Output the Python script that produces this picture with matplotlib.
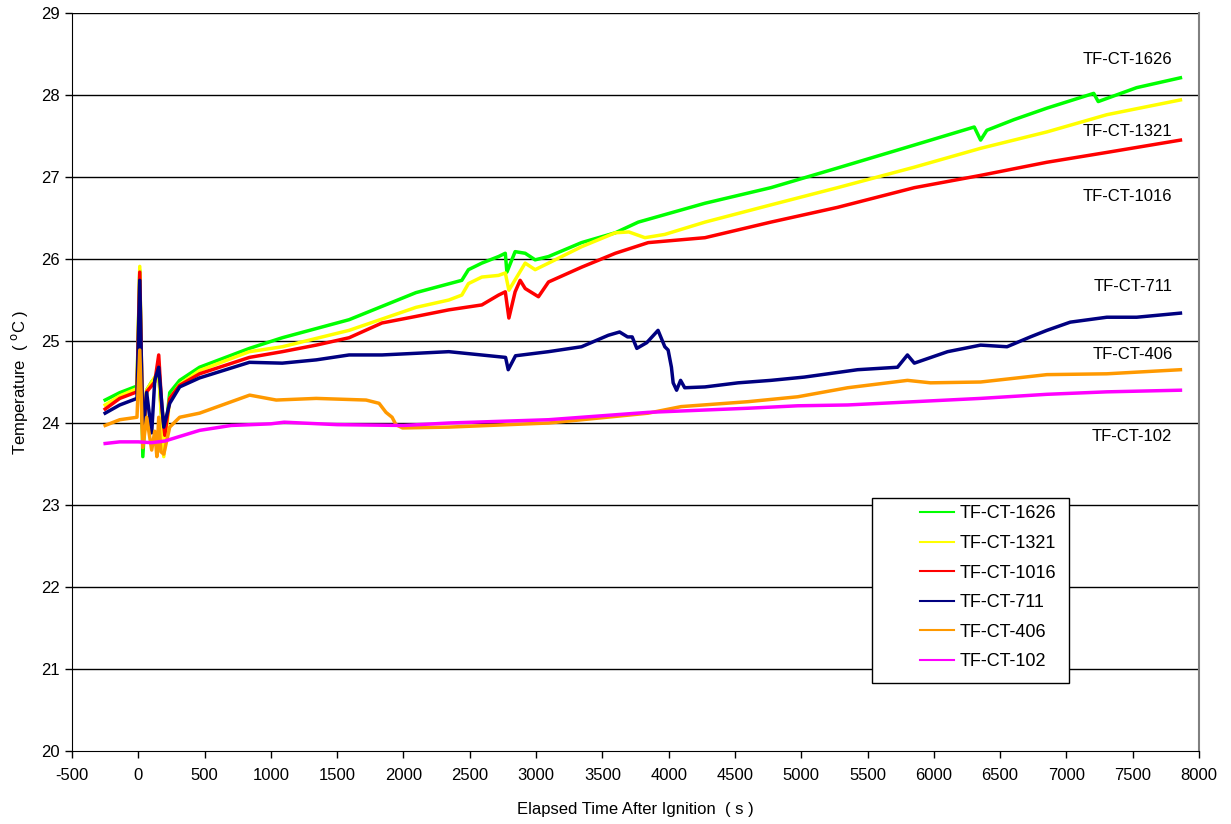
import matplotlib.pyplot as plt
from matplotlib.lines import Line2D
from matplotlib.patches import Rectangle

plt.rcParams['font.family'] = ['Liberation Sans', 'DejaVu Sans']
plt.rcParams['axes.unicode_minus'] = False

# values (time in s, temperature in degC)
t_1626 = [-250, -140, -10, 11, 34, 63, 100, 154, 192, 237, 312, 462, 838, 1086, 1590, 2094, 2440, 2490,
          2591, 2717, 2768, 2780, 2842, 2918, 2993, 3094, 3343, 3598, 3771, 4274, 4771, 5274, 5853, 6305,
          6353, 6400, 6605, 6853, 7206, 7240, 7530, 7860]
v_1626 = [24.28, 24.37, 24.45, 25.86, 23.59, 24.4, 24.5, 24.6, 23.71, 24.37, 24.52, 24.68, 24.91, 25.04,
          25.26, 25.59, 25.74, 25.87, 25.95, 26.03, 26.07, 25.84, 26.09, 26.07, 25.99, 26.03, 26.2, 26.32,
          26.45, 26.68, 26.87, 27.11, 27.39, 27.61, 27.45, 27.57, 27.7, 27.84, 28.02, 27.92, 28.09, 28.21]

t_1321 = [-250, -140, -10, 11, 34, 63, 124, 154, 192, 237, 312, 462, 838, 1086, 1590, 2094, 2342, 2440,
          2490, 2591, 2717, 2768, 2795, 2918, 2993, 3094, 3343, 3598, 3700, 3821, 3971, 4274, 4771, 5274,
          5853, 6353, 6853, 7305, 7860]
v_1321 = [24.22, 24.33, 24.42, 25.91, 23.75, 24.4, 24.56, 24.6, 23.59, 24.3, 24.47, 24.64, 24.87, 24.93,
          25.13, 25.41, 25.5, 25.56, 25.7, 25.78, 25.8, 25.83, 25.62, 25.95, 25.87, 25.95, 26.15, 26.32,
          26.33, 26.26, 26.3, 26.45, 26.66, 26.87, 27.12, 27.35, 27.55, 27.76, 27.94]

t_1016 = [-250, -140, -10, 11, 34, 63, 124, 154, 177, 200, 237, 312, 462, 838, 1086, 1342, 1590, 1838,
          2094, 2342, 2591, 2717, 2768, 2795, 2842, 2880, 2918, 3018, 3094, 3343, 3598, 3846, 4274, 4771,
          5274, 5853, 6353, 6853, 7305, 7860]
v_1016 = [24.17, 24.3, 24.38, 25.84, 23.8, 24.38, 24.5, 24.83, 24.2, 23.85, 24.3, 24.46, 24.6, 24.8, 24.87,
          24.95, 25.04, 25.22, 25.3, 25.38, 25.44, 25.56, 25.6, 25.28, 25.6, 25.74, 25.64, 25.54, 25.72,
          25.9, 26.07, 26.2, 26.26, 26.45, 26.63, 26.87, 27.02, 27.18, 27.3, 27.45]

t_711 = [-250, -140, -10, 11, 34, 63, 101, 124, 154, 177, 192, 237, 312, 462, 838, 1086, 1342, 1590,
         1838, 2094, 2342, 2770, 2790, 2845, 3094, 3343, 3545, 3630, 3690, 3725, 3760, 3835, 3920, 3971,
         3996, 4021, 4034, 4060, 4090, 4121, 4274, 4524, 4771, 5023, 5425, 5726, 5801, 5853, 6104, 6353,
         6552, 6728, 6853, 7029, 7305, 7530, 7860]
v_711 = [24.12, 24.22, 24.3, 25.74, 23.88, 24.37, 23.88, 24.52, 24.68, 24.24, 23.95, 24.24, 24.44, 24.55,
         24.74, 24.73, 24.77, 24.83, 24.83, 24.85, 24.87, 24.8, 24.65, 24.82, 24.87, 24.93, 25.07, 25.11,
         25.05, 25.05, 24.91, 24.98, 25.13, 24.93, 24.89, 24.68, 24.49, 24.4, 24.52, 24.43, 24.44, 24.49,
         24.52, 24.56, 24.65, 24.68, 24.83, 24.73, 24.87, 24.95, 24.93, 25.05, 25.13, 25.23, 25.29, 25.29,
         25.34]

t_406 = [-250, -140, -10, 11, 34, 63, 101, 124, 140, 154, 170, 192, 237, 312, 462, 840, 1040, 1342, 1718,
         1816, 1868, 1914, 1943, 1993, 2342, 3094, 3846, 4094, 4598, 4974, 5350, 5801, 5975, 6353, 6853,
         7305, 7860]
v_406 = [23.97, 24.04, 24.07, 24.89, 23.7, 24.07, 23.67, 23.9, 23.59, 24.07, 23.65, 23.62, 23.95, 24.07,
         24.12, 24.34, 24.28, 24.3, 24.28, 24.24, 24.13, 24.07, 23.98, 23.94, 23.95, 24.0, 24.12, 24.2,
         24.26, 24.32, 24.43, 24.52, 24.49, 24.5, 24.59, 24.6, 24.65]

t_102 = [-250, -140, 0, 100, 200, 300, 462, 700, 1000, 1100, 1500, 2000, 2342, 3094, 3846, 4598, 4974,
         5350, 5853, 6353, 6853, 7305, 7860]
v_102 = [23.75, 23.77, 23.77, 23.76, 23.78, 23.83, 23.91, 23.97, 23.99, 24.01, 23.98, 23.97, 24.0, 24.04,
         24.13, 24.18, 24.21, 24.22, 24.26, 24.3, 24.35, 24.38, 24.4]

names = ['TF-CT-1626', 'TF-CT-1321', 'TF-CT-1016', 'TF-CT-711', 'TF-CT-406', 'TF-CT-102']
colors = ['#00FF00', '#FFFF00', '#FF0000', '#000080', '#FF9900', '#FF00FF']
series = [(t_1626, v_1626), (t_1321, v_1321), (t_1016, v_1016),
          (t_711, v_711), (t_406, v_406), (t_102, v_102)]

# label positions on the right side
label_y = [28.43, 27.55, 26.76, 25.66, 24.83, 23.83]

fig = plt.figure(figsize=(12.31, 8.24), dpi=100)
ax = fig.add_axes([0.0585, 0.0886, 0.9155, 0.8956])

for y in range(21, 30):
    ax.axhline(y, color='black', lw=1, zorder=1)

for (t, v), c in zip(series, colors):
    ax.plot(t, v, color=c, lw=2.5, zorder=2)

for name, y in zip(names, label_y):
    ax.text(7800, y, name, ha='right', va='center', fontsize=12, zorder=3)

ax.set_xlim(-500, 8000)
ax.set_ylim(20, 29)
ax.set_xticks(range(-500, 8001, 500))
ax.set_yticks(range(20, 30))
ax.tick_params(direction='out', length=5, width=1, labelsize=12, colors='black')
ax.tick_params(axis='x', pad=7)
ax.spines['top'].set_visible(False)
ax.spines['right'].set_color('#808080')
ax.spines['right'].set_linewidth(1.5)

ax.set_xlabel('Elapsed Time After Ignition  ( s )', fontsize=12, labelpad=14)
ax.set_ylabel(r'Temperature  ( $^{\mathrm{o}}$C )', fontsize=12, labelpad=8)

# legend box
ax.add_patch(Rectangle((0.7098, 0.0921), 0.1749, 0.2507, transform=ax.transAxes,
                       facecolor='white', edgecolor='black', lw=1, zorder=4))
handles = [Line2D([], [], color=c, lw=1.5) for c in colors]
leg = ax.legend(handles, names, loc='upper left', bbox_to_anchor=(0.752, 0.333), frameon=False,
                fontsize=13, handlelength=1.9, handletextpad=0.3, labelspacing=0.7,
                borderpad=0, borderaxespad=0)
leg.set_zorder(5)

fig.savefig('out.png', dpi=100)
